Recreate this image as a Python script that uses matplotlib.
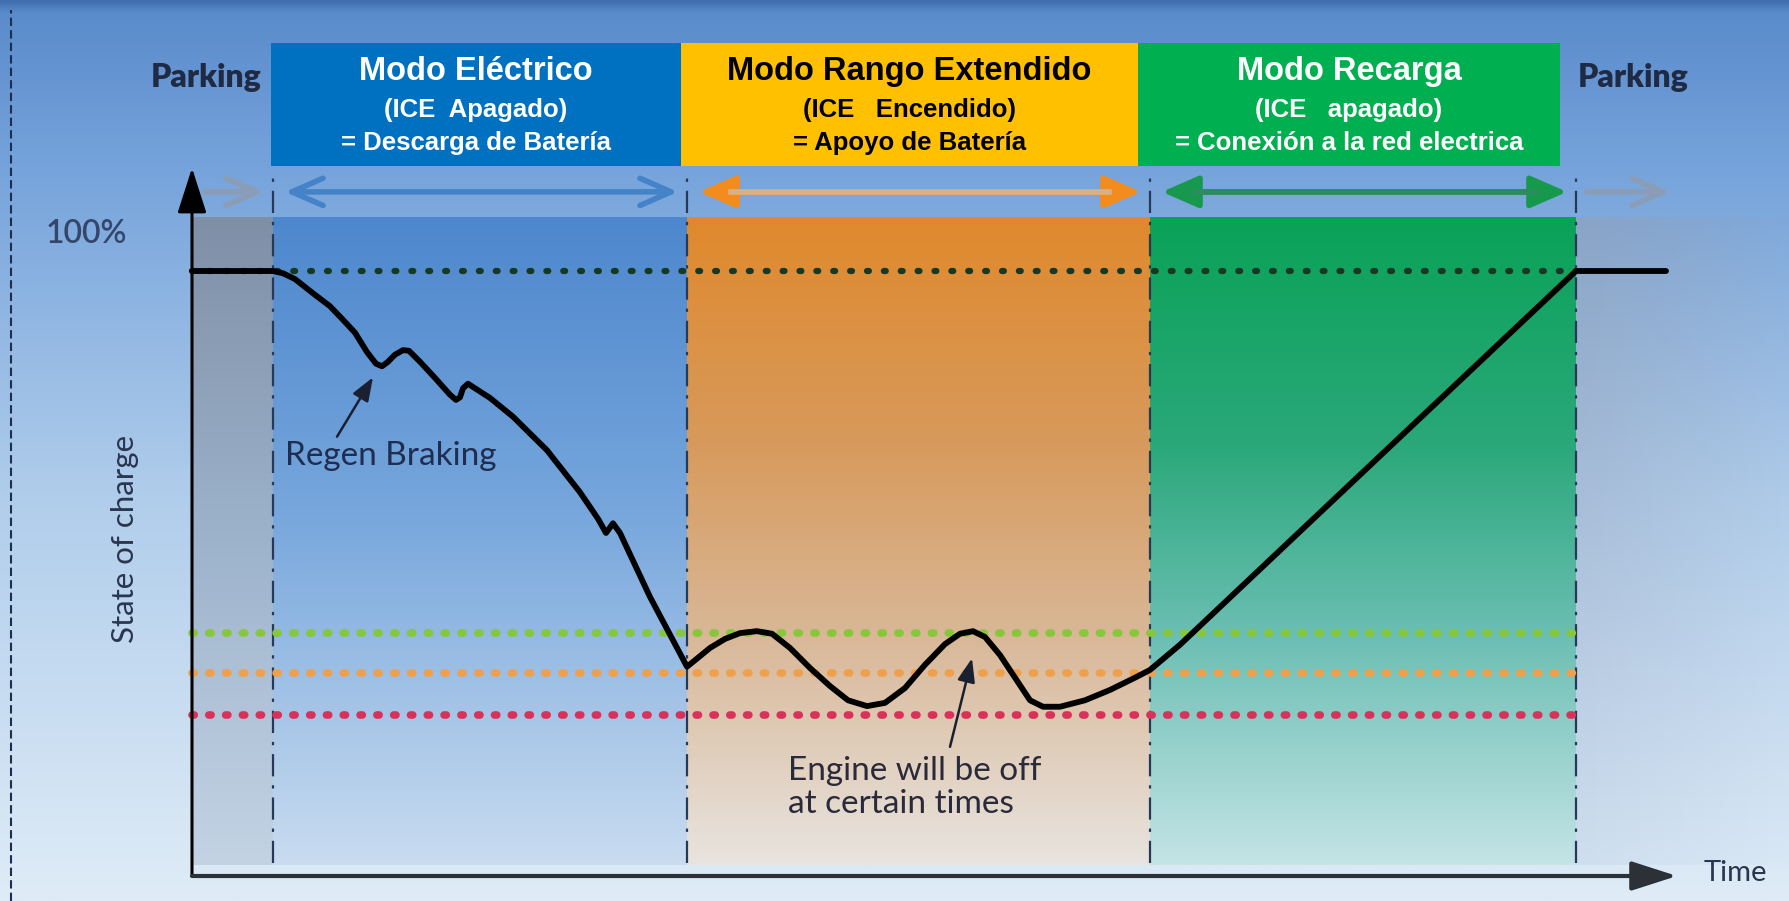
import numpy as np
import matplotlib.pyplot as plt
from matplotlib.colors import to_rgb
from matplotlib.patches import Rectangle, FancyArrowPatch

time = [0, 8.1, 9.1, 10.3, 12.1, 13.8, 15.1, 16.3, 17.5, 18.4, 19.0, 19.6, 20.3, 21.1,
        21.7, 22.8, 24.3, 25.8, 26.4, 26.8, 27.1, 27.6, 28.3, 29.8, 32.1, 35.5, 38.8,
        40.6, 41.4, 42.1, 42.8, 45.8, 49.5,
        50.3, 51.8, 53.3, 54.8, 56.5, 58.0, 59.8, 61.8, 63.8, 65.6, 67.5, 69.3, 71.3,
        73.3, 75.3, 76.8, 78.1, 79.3, 80.8, 82.3, 83.8, 85.1, 86.8, 89.3, 91.8, 94.3,
        95.8, 98.8, 138.4, 147.4]
soc = [93.65, 93.65, 93.3, 92.4, 90.2, 88.2, 86.1, 84.1, 81.1, 79.3, 78.9, 79.6, 80.7, 81.4,
       81.3, 79.6, 77.1, 74.5, 73.7, 74.1, 75.5, 76.2, 75.5, 74.0, 71.1, 65.9, 59.4,
       55.3, 53.1, 54.6, 53.1, 43.2, 32.4,
       33.4, 35.3, 36.7, 37.6, 37.9, 37.5, 35.3, 32.2, 29.4, 27.2, 26.3, 26.8, 29.1,
       32.7, 35.9, 37.5, 37.9, 37.0, 34.2, 30.7, 27.2, 26.2, 26.2, 27.2, 28.8, 30.7,
       31.9, 35.8, 93.65, 93.65]

phase_edges = [0, 8.1, 49.5, 95.8, 138.4, 147.4]
full_level = 93.65
threshold_levels = [37.6, 31.4, 24.9]
threshold_colors = ['#86c83a', '#f0a04a', '#d8325a']

box_titles = ['Modo Eléctrico', 'Modo Rango Extendido', 'Modo Recarga']
box_line2 = ['(ICE  Apagado)', '(ICE   Encendido)', '(ICE   apagado)']
box_line3 = ['= Descarga de Batería', '= Apoyo de Batería', '= Conexión a la red electrica']
box_edges = [7.9, 48.9, 94.6, 136.8]
box_colors = ['#0070c0', '#ffc000', '#00b050']
box_text_colors = ['white', 'black', 'white']

# degradados verticales (arriba -> abajo) de cada zona
region_stops = [
    [(0, '#7e8fa6'), (0.5, '#9db3cc'), (1, '#c3d3e4')],
    [(0, '#4d87cd'), (0.45, '#76a6dc'), (1, '#c9dcf0')],
    [(0, '#e0892c'), (0.35, '#d79a5c'), (0.65, '#d9b898'), (1, '#e8e4df')],
    [(0, '#0aa257'), (0.35, '#2aa87a'), (0.65, '#6cbfb4'), (1, '#c4e4e6')],
]
arrow_colors = [('#8b9db6', '#8b9db6'), ('#4583c8', '#4a79b2'), ('#f28c1c', '#d9b08a'),
                ('#17994d', '#2e8b5e'), ('#8b9db6', '#8b9db6')]

X0, X1 = -19.2, 159.7
Y0, Y1 = -3.87, 135.6


def vgrad(ax, x0, x1, y0, y1, stops, alpha=None, z=0):
    n = 300
    pos = np.linspace(0, 1, n)
    cols = np.array([to_rgb(c) for _, c in stops])
    ps = [p for p, _ in stops]
    rgb = np.stack([np.interp(pos, ps, cols[:, k]) for k in range(3)], axis=1)
    img = rgb[:, None, :]
    if alpha is not None:
        m = 100
        a = np.linspace(alpha[0], alpha[1], m)
        img = np.concatenate([np.repeat(img, m, axis=1),
                              np.broadcast_to(a[None, :, None], (n, m, 1))], axis=2)
    ax.imshow(img, extent=(x0, x1, y0, y1), origin='upper', aspect='auto',
              zorder=z, interpolation='bilinear')


fig = plt.figure(figsize=(17.89, 9.01), dpi=100)
ax = fig.add_axes([0, 0, 1, 1])
ax.axis('off')

# fondo
vgrad(ax, X0, X1, Y0, Y1, [(0, '#3f6fae'), (0.012, '#5a8bcb'), (0.2, '#78a5dc'),
                           (0.55, '#b0cdeb'), (1, '#dfecf7')], z=0)
ax.plot([-18.1, -18.1], [Y0, 134.0], ls=(0, (4, 2)), lw=1.5, color='#1e2e4e', zorder=1)

# zonas sombreadas
top_shade, bot_shade = 101.9, 1.7
for i, stops in enumerate(region_stops):
    vgrad(ax, phase_edges[i], phase_edges[i + 1], bot_shade, top_shade, stops, z=1)
vgrad(ax, phase_edges[4], X1, bot_shade, top_shade,
      [(0, '#8aa4c6'), (1, '#cfdff0')], alpha=(1, 0.1), z=1)

# lineas verticales de fase
for x in phase_edges[1:5]:
    ax.plot([x, x], [2.0, 109.3], ls=(0, (10, 4, 1.5, 4)), lw=1.6, color='#263a58', zorder=3)

# niveles de carga punteados
ax.plot([0, phase_edges[4]], [full_level] * 2, ls=(0, (0.3, 2.4)), lw=4.5,
        dash_capstyle='round', color='#173823', zorder=3)
for lvl, c in zip(threshold_levels, threshold_colors):
    ax.plot([0, phase_edges[4]], [lvl, lvl], ls=(0, (0.3, 1.9)), lw=5.5,
            dash_capstyle='round', color=c, zorder=3)

# curva de estado de carga
ax.plot(time, soc, color='black', lw=4.2, solid_joinstyle='round', solid_capstyle='round',
        zorder=5)

# ejes con flecha
ax.annotate('', xy=(0, 109.6), xytext=(0, 0),
            arrowprops=dict(arrowstyle='-|>,head_length=1.4,head_width=0.45', lw=2.2,
                            color='black', mutation_scale=20, shrinkA=0, shrinkB=0), zorder=6)
ax.annotate('', xy=(148.5, 0), xytext=(0, 0),
            arrowprops=dict(arrowstyle='-|>,head_length=1.4,head_width=0.45', lw=3.0,
                            color='#2c3138', mutation_scale=20, shrinkA=0, shrinkB=0), zorder=6)

# flechas de fase
arrow_y = 105.9
styles = ['->', '<->', '<|-|>', '<|-|>', '->']
for i in range(5):
    xa, xb = phase_edges[i] + 1.2, phase_edges[i + 1] - 0.9
    if i == 4:
        xa, xb = phase_edges[4] + 1.1, phase_edges[5] + 0.4
    hc, sc = arrow_colors[i]
    ar = FancyArrowPatch((xa, arrow_y), (xb, arrow_y),
                         arrowstyle=f'{styles[i]},head_length=1.6,head_width=0.7',
                         mutation_scale=14, lw=4.0, color=hc, shrinkA=0, shrinkB=0, zorder=4)
    ax.add_patch(ar)
    if i in (2, 3):
        ax.plot([xa + 3.2, xb - 3.2], [arrow_y, arrow_y], color=sc, lw=4.0, zorder=4.5)

# cajas de modo
for i in range(3):
    ax.add_patch(Rectangle((box_edges[i], 109.9), box_edges[i + 1] - box_edges[i], 19.0,
                           color=box_colors[i], zorder=6, lw=0))
    xc = (box_edges[i] + box_edges[i + 1]) / 2
    ax.text(xc, 124.5, box_titles[i], ha='center', va='center', fontsize=23.5,
            fontweight='bold', family='Liberation Sans', color=box_text_colors[i], zorder=7)
    ax.text(xc, 118.5, box_line2[i], ha='center', va='center', fontsize=18.5,
            fontweight='bold', family='Liberation Sans', color=box_text_colors[i], zorder=7)
    ax.text(xc, 113.5, box_line3[i], ha='center', va='center', fontsize=18.5,
            fontweight='bold', family='Liberation Sans', color=box_text_colors[i], zorder=7)

# textos
txt = dict(family='Lato', zorder=7)
ax.text(1.45, 123.6, 'Parking', ha='center', va='center', fontsize=23, fontweight='heavy',
        color='#1f2a44', **txt)
ax.text(144.1, 123.6, 'Parking', ha='center', va='center', fontsize=23, fontweight='heavy',
        color='#1f2a44', **txt)
ax.text(-10.6, 99.4, '100%', ha='center', va='center', fontsize=23, fontweight='semibold',
        color='#34476a', **txt)
ax.text(-6.7, 52.2, 'State of charge', ha='center', va='center', rotation=90, fontsize=22.5,
        color='#2a3550', **txt)
ax.text(154.3, 0.5, 'Time', ha='center', va='center', fontsize=21, color='#2a3550', **txt)
ax.text(19.9, 65.0, 'Regen Braking', ha='center', va='center', fontsize=24,
        color='#1f2d50', **txt)
ax.text(59.6, 16.2, 'Engine will be off', ha='left', va='center', fontsize=24,
        color='#2a2a3a', **txt)
ax.text(59.6, 11.1, 'at certain times', ha='left', va='center', fontsize=24,
        color='#2a2a3a', **txt)
ax.annotate('', xy=(18.1, 77.2), xytext=(14.5, 68.0),
            arrowprops=dict(arrowstyle='-|>,head_length=0.8,head_width=0.3', lw=1.8,
                            color='#1a2030', mutation_scale=18, shrinkA=0, shrinkB=0), zorder=6)
ax.annotate('', xy=(78.0, 33.7), xytext=(75.8, 20.0),
            arrowprops=dict(arrowstyle='-|>,head_length=0.8,head_width=0.3', lw=1.8,
                            color='#1a2030', mutation_scale=18, shrinkA=0, shrinkB=0), zorder=6)

ax.set_xlim(X0, X1)
ax.set_ylim(Y0, Y1)
fig.savefig('out.png', dpi=100)
